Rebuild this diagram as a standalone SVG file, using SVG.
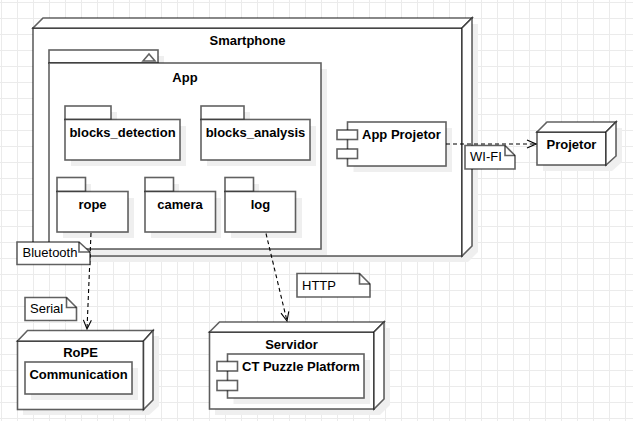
<svg xmlns="http://www.w3.org/2000/svg" width="633" height="421" viewBox="0 0 633 421">
<defs>
<pattern id="grid" x="1" y="2" width="16" height="16" patternUnits="userSpaceOnUse">
<path d="M0 0.5H16M0.5 0V16" fill="none" stroke="#ebebeb" stroke-width="1"/>
</pattern>
<marker id="open" viewBox="-11 -6 12 12" refX="0" refY="0" markerWidth="12" markerHeight="12" markerUnits="userSpaceOnUse" orient="auto">
<path d="M-9,-4 L0,0 L-9,4" fill="none" stroke="#000" stroke-width="1.1" stroke-dasharray="none"/>
</marker>
<style>
.s{fill:#fff;stroke:#000;stroke-opacity:0.62;stroke-width:1.6;stroke-linejoin:miter}
.f{fill:none;stroke:#000;stroke-opacity:0.62;stroke-width:1.6}
.sh{fill:#efefef;stroke:none}
.b{font-family:"Liberation Sans",Arial,sans-serif;font-size:13px;font-weight:bold;fill:#000}
.c{text-anchor:middle}
.n{font-family:"Liberation Sans",Arial,sans-serif;font-size:13px;fill:#000}
.e{fill:none;stroke:#000;stroke-width:1.1;stroke-dasharray:4 3;marker-end:url(#open)}
</style>
</defs>
<rect width="633" height="421" fill="#fff"/>
<rect width="633" height="421" fill="url(#grid)"/>

<g id="smartphone">
<path class="sh" d="M39,34 L49,24 H478 V252 L468,262 H39 Z"/>
<rect class="s" x="33" y="28" width="429" height="228"/>
<path class="s" d="M33,28 L43,18 H472 L462,28 Z"/>
<path class="s" d="M462,28 L472,18 V246 L462,256 Z"/>
<text class="b c" x="247.5" y="45">Smartphone</text>
</g>

<g id="app">
<path class="sh" d="M55,56 H164 V69 H327 V255 H55 Z"/>
<rect class="s" x="49" y="50" width="109" height="13"/>
<rect class="s" x="49" y="63" width="272" height="186"/>
<path class="f" d="M143,61 L149,54 L155,61 Z" stroke-width="1.1"/>
<text class="b c" x="185" y="82">App</text>
</g>

<g id="blocks_detection">
<path class="sh" d="M71,112 H117 V126 H186 V166 H71 Z"/>
<rect class="s" x="65" y="106" width="46" height="13.5"/>
<rect class="s" x="65" y="119.5" width="115" height="40.5"/>
<text class="b c" x="122.5" y="137">blocks_detection</text>
</g>

<g id="blocks_analysis">
<path class="sh" d="M207,112 H250 V126 H316 V166 H207 Z"/>
<rect class="s" x="201" y="106" width="43" height="13.5"/>
<rect class="s" x="201" y="119.5" width="109" height="40.5"/>
<text class="b c" x="255.5" y="137">blocks_analysis</text>
</g>

<g id="rope">
<path class="sh" d="M63,184 H91 V198 H134 V238 H63 Z"/>
<rect class="s" x="57" y="177.5" width="28.5" height="14"/>
<rect class="s" x="57" y="191.5" width="71" height="40.5"/>
<text class="b c" x="92.5" y="209">rope</text>
</g>

<g id="camera">
<path class="sh" d="M151,184 H179 V198 H221 V238 H151 Z"/>
<rect class="s" x="145" y="177.5" width="28.5" height="14"/>
<rect class="s" x="145" y="191.5" width="70.5" height="40.5"/>
<text class="b c" x="180" y="209">camera</text>
</g>

<g id="log">
<path class="sh" d="M231,184 H259 V198 H302 V238 H231 Z"/>
<rect class="s" x="225" y="177.5" width="28.5" height="14"/>
<rect class="s" x="225" y="191.5" width="70.5" height="40.5"/>
<text class="b c" x="260.5" y="209">log</text>
</g>

<g id="app_projetor">
<rect class="sh" x="353.5" y="128" width="98.5" height="44"/>
<rect class="s" x="347.5" y="122" width="98.5" height="44"/>
<rect class="s" x="337" y="130" width="20.5" height="9.5"/>
<rect class="s" x="337" y="149" width="20.5" height="9.5"/>
<text class="b" x="362" y="138.5">App Projetor</text>
</g>

<g id="projetor">
<path class="sh" d="M543,138 L553,128 H622 V162 L612,171 H543 Z"/>
<rect class="s" x="537" y="132" width="69" height="33"/>
<path class="s" d="M537,132 L547,122 H616 L606,132 Z"/>
<path class="s" d="M606,132 L616,122 V156 L606,165 Z"/>
<text class="b c" x="571.5" y="149">Projetor</text>
</g>

<g id="rope_device">
<path class="sh" d="M23,347 L33,336 H159 V406 L149,415 H23 Z"/>
<rect class="s" x="17.5" y="341" width="126" height="68.5"/>
<path class="s" d="M17.5,341 L27.5,330.5 H153 L143.5,341 Z"/>
<path class="s" d="M143.5,341 L153,330.5 V400 L143.5,409.5 Z"/>
<rect class="sh" x="31" y="368" width="107" height="32"/>
<rect class="s" x="25" y="362" width="107" height="32"/>
<text class="b c" x="80.5" y="357">RoPE</text>
<text class="b c" x="78.5" y="378.5">Communication</text>
</g>

<g id="servidor">
<path class="sh" d="M215,338 L225,328 H390 V405 L380,415 H215 Z"/>
<rect class="s" x="209.5" y="332" width="164.5" height="77"/>
<path class="s" d="M209.5,332 L219.5,322 H384 L374,332 Z"/>
<path class="s" d="M374,332 L384,322 V399 L374,409 Z"/>
<rect class="sh" x="233.5" y="360" width="136.5" height="44"/>
<rect class="s" x="227.5" y="354" width="136.5" height="44"/>
<rect class="s" x="217" y="361.5" width="20.5" height="9.5"/>
<rect class="s" x="217" y="380.5" width="20.5" height="10"/>
<text class="b c" x="291.5" y="349">Servidor</text>
<text class="b" x="242" y="371">CT Puzzle Platform</text>
</g>

<g id="connectors">
<path class="e" d="M446,144 H536"/>
<path class="e" d="M91,233 L87,329"/>
<path class="e" d="M266,233.5 L287,321"/>
</g>

<g id="note_wifi">
<path class="s" d="M465,145.5 H505 L515,155.5 V169 H465 Z"/>
<path class="f" d="M505,145.5 V155.5 H515"/>
<text class="n" x="470" y="161">WI-FI</text>
</g>

<g id="note_bluetooth">
<path class="s" d="M17,242 H79 L90,252 V264.5 H17 Z"/>
<path class="f" d="M79,242 V252 H90"/>
<text class="n" x="22.5" y="257">Bluetooth</text>
</g>

<g id="note_serial">
<path class="s" d="M25,297.5 H66.5 L76.5,307.5 V320.5 H25 Z"/>
<path class="f" d="M66.5,297.5 V307.5 H76.5"/>
<text class="n" x="30" y="313">Serial</text>
</g>

<g id="note_http">
<path class="s" d="M297,273.5 H359.5 L370,284 V297 H297 Z"/>
<path class="f" d="M359.5,273.5 V284 H370"/>
<text class="n" x="302" y="289.5">HTTP</text>
</g>
</svg>
